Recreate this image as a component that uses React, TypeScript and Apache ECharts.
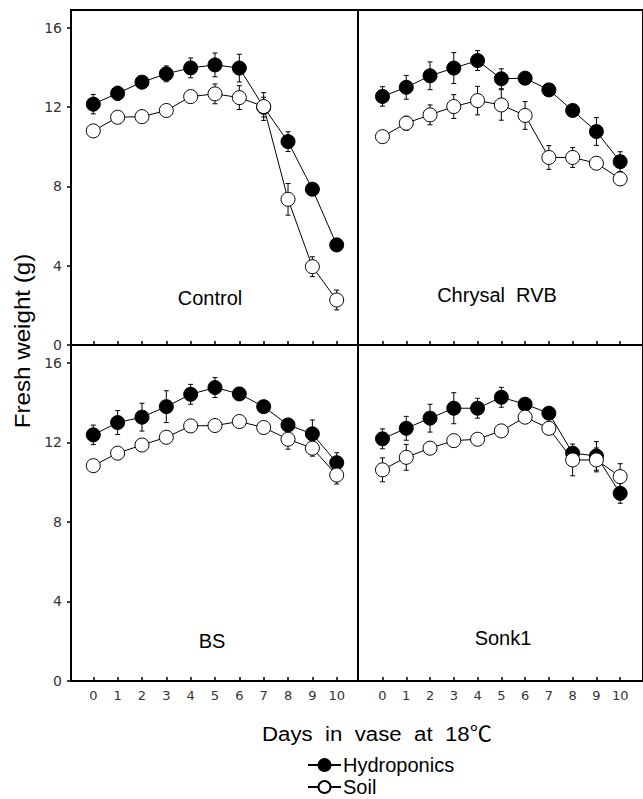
import React, { useEffect, useRef } from "react";
import * as echarts from "echarts";

const days = [0, 1, 2, 3, 4, 5, 6, 7, 8, 9, 10];
const yTicks = [0, 4, 8, 12, 16];

const controlHydro = [12.15, 12.7, 13.26, 13.68, 13.98, 14.13, 13.97, 12.0, 10.26, 7.86, 5.05];
const controlHydroErr = [0.49, 0.35, 0.3, 0.4, 0.5, 0.6, 0.7, 0.5, 0.5, 0.2, 0.3];
const controlSoil = [10.8, 11.49, 11.52, 11.83, 12.53, 12.67, 12.48, 12.03, 7.35, 3.95, 2.27];
const controlSoilErr = [0.2, 0.2, 0.2, 0.2, 0.2, 0.5, 0.6, 0.7, 0.8, 0.5, 0.5];

const chrysalHydro = [12.54, 13.0, 13.58, 13.97, 14.35, 13.43, 13.46, 12.87, 11.83, 10.77, 9.25];
const chrysalHydroErr = [0.49, 0.6, 0.7, 0.78, 0.5, 0.5, 0.3, 0.2, 0.2, 0.7, 0.5];
const chrysalSoil = [10.51, 11.19, 11.61, 12.03, 12.33, 12.11, 11.58, 9.46, 9.46, 9.17, 8.38];
const chrysalSoilErr = [0.2, 0.35, 0.5, 0.6, 0.72, 0.77, 0.7, 0.6, 0.5, 0.3, 0.2];

const bsHydro = [12.38, 13.0, 13.27, 13.8, 14.42, 14.76, 14.44, 13.8, 12.88, 12.43, 10.98];
const bsHydroErr = [0.49, 0.6, 0.7, 0.8, 0.5, 0.5, 0.3, 0.2, 0.2, 0.7, 0.5];
const bsSoil = [10.83, 11.46, 11.87, 12.26, 12.83, 12.85, 13.05, 12.75, 12.16, 11.71, 10.36];
const bsSoilErr = [0.2, 0.2, 0.2, 0.2, 0.2, 0.2, 0.2, 0.2, 0.5, 0.4, 0.45];

const sonkHydro = [12.18, 12.71, 13.22, 13.72, 13.72, 14.27, 13.92, 13.47, 11.46, 11.32, 9.44];
const sonkHydroErr = [0.5, 0.6, 0.7, 0.78, 0.5, 0.5, 0.3, 0.2, 0.3, 0.72, 0.5];
const sonkSoil = [10.62, 11.25, 11.71, 12.09, 12.16, 12.58, 13.27, 12.71, 11.12, 11.12, 10.28];
const sonkSoilErr = [0.6, 0.65, 0.2, 0.2, 0.2, 0.2, 0.2, 0.2, 0.8, 0.6, 0.65];

const panelNames = ["Control", "Chrysal  RVB", "BS", "Sonk1"];
const seriesNames = ["Hydroponics", "Soil"];
const xTitle = "Days  in  vase  at  18℃";
const yTitle = "Fresh weight (g)";

const panels = [
  { hydro: controlHydro, hydroErr: controlHydroErr, soil: controlSoil, soilErr: controlSoilErr },
  { hydro: chrysalHydro, hydroErr: chrysalHydroErr, soil: chrysalSoil, soilErr: chrysalSoilErr },
  { hydro: bsHydro, hydroErr: bsHydroErr, soil: bsSoil, soilErr: bsSoilErr },
  { hydro: sonkHydro, hydroErr: sonkHydroErr, soil: sonkSoil, soilErr: sonkSoilErr },
];

const FONT = "'Liberation Sans', Arial, 'Noto Sans CJK KR', sans-serif";
const NUMFONT = "'DejaVu Sans', sans-serif";

export default function App() {
  const ref = useRef<HTMLDivElement>(null);
  useEffect(() => {
    if (!ref.current) return;
    const chart = echarts.init(ref.current, null, { renderer: "svg" });

    const grids = [
      { left: 71, top: 10, width: 287, height: 335 },
      { left: 358, top: 10, width: 291, height: 335 },
      { left: 71, top: 345, width: 287, height: 336 },
      { left: 358, top: 345, width: 291, height: 336 },
    ].map((g) => ({ ...g, show: true, borderColor: "#000", borderWidth: 2, backgroundColor: "transparent", containLabel: false }));

    const xRanges = [
      [-0.916, 10.875],
      [-1.03, 10.96],
      [-0.916, 10.875],
      [-1.03, 10.96],
    ];

    const xAxis = xRanges.map((r, i) => ({
      type: "value",
      gridIndex: i,
      min: r[0],
      max: r[1],
      axisLine: { show: false, onZero: false },
      splitLine: { show: false },
      axisTick: {
        show: true,
        inside: true,
        length: 4,
        lineStyle: { color: "#000", width: 1.5 },
        customValues: days,
      },
      axisLabel: {
        show: i >= 2,
        customValues: days,
        fontSize: 13,
        color: "#333",
        fontFamily: NUMFONT,
        margin: 8,
      },
    }));

    const yAxis = [0, 1, 2, 3].map((i) => ({
      type: "value",
      gridIndex: i,
      min: 0,
      max: 16.9,
      axisLine: { show: false, onZero: false },
      splitLine: { show: false },
      axisTick: {
        show: i % 2 === 0,
        inside: false,
        length: 4,
        lineStyle: { color: "#000", width: 1.5 },
        customValues: yTicks,
      },
      axisLabel: {
        show: i % 2 === 0,
        customValues: yTicks,
        fontSize: 14,
        color: "#333",
        fontFamily: NUMFONT,
        margin: 9,
      },
    }));

    const errRender = (params: any, api: any) => {
      const x = api.value(0);
      const lo = api.value(1);
      const hi = api.value(2);
      const t = api.coord([x, hi]);
      const b = api.coord([x, lo]);
      const c = 2.5;
      const st = { stroke: "#000", lineWidth: 1 };
      return {
        type: "group",
        children: [
          { type: "line", shape: { x1: t[0], y1: t[1], x2: b[0], y2: b[1] }, style: st },
          { type: "line", shape: { x1: t[0] - c, y1: t[1], x2: t[0] + c, y2: t[1] }, style: st },
          { type: "line", shape: { x1: b[0] - c, y1: b[1], x2: b[0] + c, y2: b[1] }, style: st },
        ],
      };
    };

    const series: any[] = [];
    panels.forEach((p, i) => {
      const groups = [
        { name: seriesNames[0], vals: p.hydro, errs: p.hydroErr, fill: "#000", z: 3 },
        { name: seriesNames[1], vals: p.soil, errs: p.soilErr, fill: "#fff", z: 4 },
      ];
      groups.forEach((g) => {
        series.push({
          type: "custom",
          name: g.name + " error",
          xAxisIndex: i,
          yAxisIndex: i,
          z: 1,
          silent: true,
          renderItem: errRender,
          encode: { x: 0, y: [1, 2] },
          data: days.map((d, k) => [d, g.vals[k] - g.errs[k], g.vals[k] + g.errs[k]]),
        });
        series.push({
          type: "line",
          name: g.name,
          xAxisIndex: i,
          yAxisIndex: i,
          z: g.z,
          symbol: "circle",
          symbolSize: 14,
          showAllSymbol: true,
          lineStyle: { color: "#000", width: 1 },
          itemStyle: { color: g.fill, borderColor: "#000", borderWidth: 1 },
          data: days.map((d, k) => [d, g.vals[k]]),
        });
      });
    });

    const labelPos = [
      [210, 298],
      [497, 295],
      [212, 641],
      [503, 638],
    ];

    const graphic: any[] = panelNames.map((n, i) => ({
      type: "text",
      x: labelPos[i][0],
      y: labelPos[i][1],
      style: { text: n, fontSize: 20, fontFamily: FONT, fill: "#000", align: "center", verticalAlign: "middle" },
    }));
    graphic.push({
      type: "text",
      x: 22,
      y: 341,
      rotation: Math.PI / 2,
      scaleX: 1.1,
      style: { text: yTitle, fontSize: 22, fontFamily: FONT, fill: "#000", align: "center", verticalAlign: "middle" },
    });
    graphic.push({
      type: "text",
      x: 377,
      y: 734,
      scaleX: 1.06,
      style: { text: xTitle, fontSize: 21, fontFamily: FONT, fill: "#000", align: "center", verticalAlign: "middle" },
    });

    chart.setOption({
      animation: false,
      backgroundColor: "#fff",
      grid: grids,
      xAxis,
      yAxis,
      series,
      graphic,
      legend: {
        data: seriesNames,
        orient: "vertical",
        left: 307,
        top: 755,
        padding: 0,
        itemWidth: 33,
        itemHeight: 15,
        itemGap: 2,
        textStyle: { fontSize: 20, fontFamily: FONT, color: "#000", padding: [0, 0, 0, -3] },
      },
    });
    return () => chart.dispose();
  }, []);
  return <div ref={ref} style={{ position: "absolute", left: 0, top: 0, width: 643, height: 799 }} />;
}
